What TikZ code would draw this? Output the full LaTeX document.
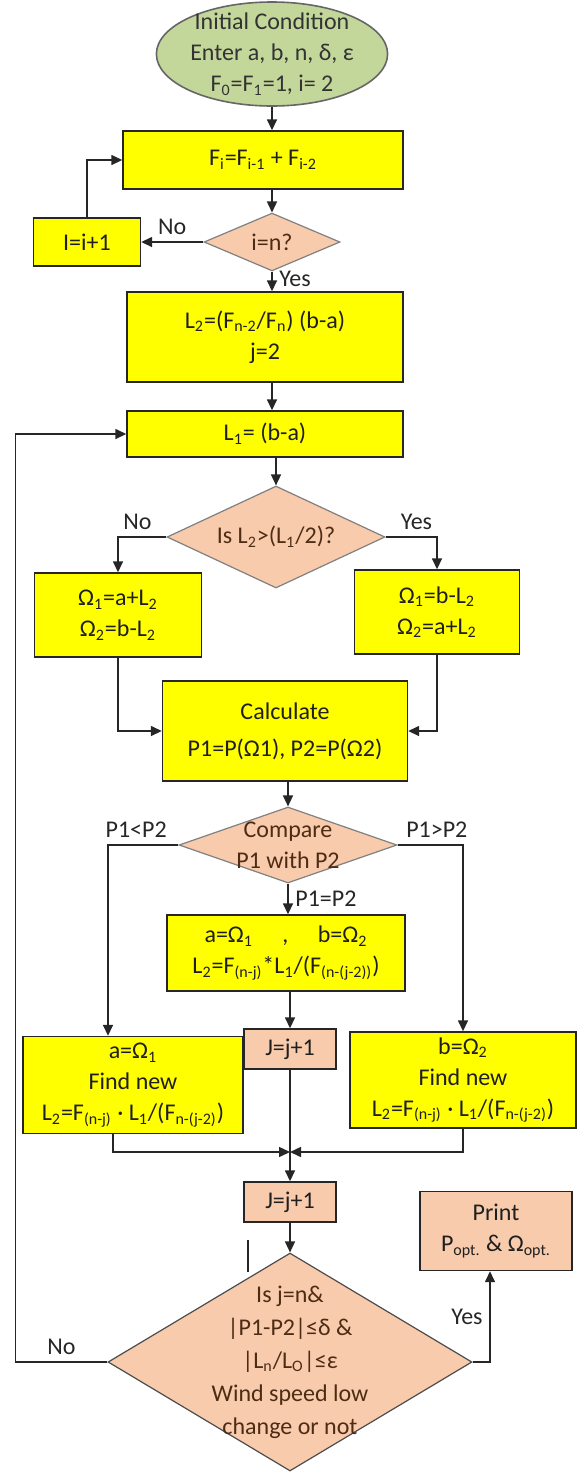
\documentclass[tikz,border=0pt]{standalone}
\usepackage{fontspec}
\setmainfont{Carlito}
\usetikzlibrary{shapes.geometric,arrows.meta}

\definecolor{boxyellow}{HTML}{FFFF00}
\definecolor{peach}{HTML}{F8CBAD}
\definecolor{startgreen}{HTML}{C4D79B}
\definecolor{inkbrown}{HTML}{4E2C14}

\begin{document}
\begin{tikzpicture}[x=0.5pt, y=-0.5pt, >={Triangle[length=5.5pt,width=5pt]},
    every node/.style={font=\fontsize{12}{15.5}\selectfont},
    procbox/.style={draw=black!85, line width=0.7pt, fill=boxyellow, align=center, inner sep=0pt, text=black!88},
    peachbox/.style={draw=black!85, line width=0.7pt, fill=peach, align=center, inner sep=0pt, text=black!88},
    decision/.style={diamond, draw=black!50, line width=0.6pt, fill=peach, align=center, inner sep=0pt, text=inkbrown},
    flow/.style={->, line width=0.75pt, draw=black!85},
    lbl/.style={text=black!85}]
    \useasboundingbox (0,0) rectangle (579,1474);

    % start
    \node[ellipse, draw=black!60, line width=0.8pt, fill=startgreen, minimum width=111pt, minimum height=52pt,
          inner xsep=0pt, inner ysep=-6pt, align=center, text=black!80] (init) at (272,54)
      {Initial Condition\\Enter a, b, n, δ, ε\\F\textsubscript{0}=F\textsubscript{1}=1, i= 2};

    % fibonacci loop
    \node[procbox, minimum width=140pt, minimum height=29pt] (fib) at (263,160)
      {F\textsubscript{i}=F\textsubscript{i-1} + F\textsubscript{i-2}};
    \node[decision, minimum width=68pt, minimum height=27pt] (chki) at (272,242) {i=n?};
    \node[procbox, minimum width=53.5pt, minimum height=24pt] (inc) at (87,242) {I=i+1};
    \node[procbox, minimum width=138pt, minimum height=45pt] (lentwo) at (265,337)
      {L\textsubscript{2}=(F\textsubscript{n-2}/F\textsubscript{n}) (b-a)\\j=2};
    \node[procbox, minimum width=138pt, minimum height=23pt] (lenone) at (265,434)
      {L\textsubscript{1}= (b-a)};

    % first test
    \node[decision, minimum width=109pt, minimum height=51pt, aspect=2.1] (half) at (276,537)
      {Is L\textsubscript{2}>(L\textsubscript{1}/2)?};
    \node[procbox, minimum width=83.5pt, minimum height=42pt] (omleft) at (118,615)
      {Ω\textsubscript{1}=a+L\textsubscript{2}\\Ω\textsubscript{2}=b-L\textsubscript{2}};
    \node[procbox, minimum width=82.5pt, minimum height=42pt] (omright) at (437,612)
      {Ω\textsubscript{1}=b-L\textsubscript{2}\\Ω\textsubscript{2}=a+L\textsubscript{2}};
    \node[procbox, minimum width=122.5pt, minimum height=50pt] (calc) at (285,731)
      {Calculate\\[3pt]P1=P(Ω1), P2=P(Ω2)};

    % compare
    \node[decision, minimum width=109pt, minimum height=38pt, inner ysep=-10pt, aspect=2.87] (cmp) at (288,845)
      {Compare\\P1 with P2};
    \node[procbox, minimum width=119pt, minimum height=38pt] (mideq) at (286,953)
      {a=Ω\textsubscript{1} \quad, \quad b=Ω\textsubscript{2}\\
       L\textsubscript{2}=F\textsubscript{(n-j)}*L\textsubscript{1}/(F\textsubscript{(n-(j-2))})};
    \node[peachbox, minimum width=46pt, minimum height=20pt] (jfirst) at (290,1049) {J=j+1};
    \node[procbox, minimum width=110pt, minimum height=48.5pt] (newa) at (133,1085)
      {a=Ω\textsubscript{1}\\Find new\\
       L\textsubscript{2}=F\textsubscript{(n-j)} · L\textsubscript{1}/(F\textsubscript{n-(j-2)})};
    \node[procbox, minimum width=113pt, minimum height=48pt] (newb) at (463,1080)
      {b=Ω\textsubscript{2}\\Find new\\
       L\textsubscript{2}=F\textsubscript{(n-j)} · L\textsubscript{1}/(F\textsubscript{n-(j-2)})};
    \coordinate (merge) at (290,1152);
    \node[peachbox, minimum width=46pt, minimum height=20pt] (jsecond) at (290,1202) {J=j+1};

    % stop test
    \node[decision, draw=black!70, minimum width=182pt, minimum height=109pt, inner ysep=-22pt, aspect=1.7,
          font=\fontsize{12}{16.5}\selectfont] (stop) at (290,1362)
      {Is j=n\&\\|P1-P2|≤δ \&\\|L\textsubscript{n}/L\textsubscript{O}|≤ε\\Wind speed low\\change or not};
    \node[peachbox, minimum width=76pt, minimum height=39.5pt] (print) at (496,1231)
      {Print\\P\textsubscript{opt.} \& Ω\textsubscript{opt.}};

    % connectors
    \draw[flow] (init.south) -- (init.south |- fib.north);
    \draw[flow] (chki.north |- fib.south) -- (chki.north);
    \draw[flow] (chki.west) -- (inc.east) node[midway, above, lbl] {No};
    \draw[flow] (inc.north) |- (fib.west);
    \draw[flow] (chki.south) -- (chki.south |- lentwo.north) node[pos=0.35, right, lbl] {Yes};
    \draw[flow] (chki.south |- lentwo.south) -- (chki.south |- lenone.north);
    \draw[flow] (half.north |- lenone.south) -- (half.north);
    \draw[flow] (half.west) -| (omleft.north) node[pos=0.3, above, lbl] {No};
    \draw[flow] (half.east) -| (omright.north) node[pos=0.3, above, lbl] {Yes};
    \draw[flow] (omleft.south) |- (calc.west);
    \draw[flow] (omright.south) |- (calc.east);
    \draw[flow] (cmp.north |- calc.south) -- (cmp.north);
    \draw[flow] (cmp.west) -| ([xshift=-12.5pt]newa.north) node[pos=0.3, above, lbl] {P1<P2};
    \draw[flow] (cmp.east) -| (newb.north) node[pos=0.3, above, lbl] {P1>P2};
    \draw[flow] (cmp.south) -- (cmp.south |- mideq.north) node[midway, right, lbl] {P1=P2};
    \draw[flow] (jfirst.north |- mideq.south) -- (jfirst.north);
    \draw[flow] (jfirst.south) -- (jsecond.north);
    \draw[flow] ([xshift=-10pt]newa.south) |- (merge);
    \draw[flow] (newb.south) |- (merge);
    \draw[flow] (jsecond.south) -- (stop.north);
    \draw[flow] (stop.west) -- ++(-92,0) node[midway, above, lbl] {No} |- (lenone.west);
    \draw[flow] (stop.east) -| ([xshift=-3pt]print.south) node[pos=0.75, left, lbl] {Yes};
    \draw[line width=0.7pt, black!85] (248,1240) -- (248,1272);
\end{tikzpicture}
\end{document}
